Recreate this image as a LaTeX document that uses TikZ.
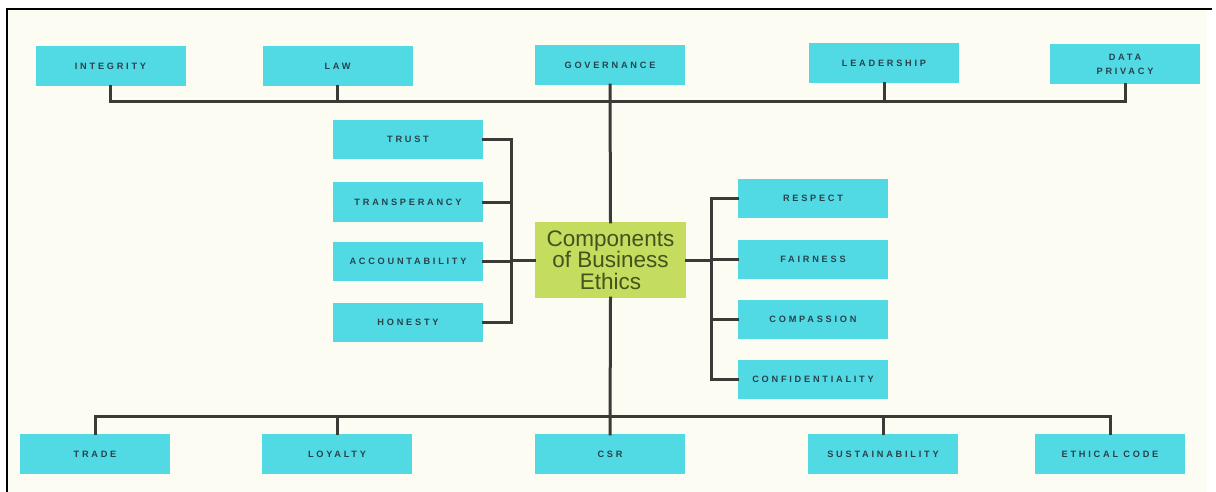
\documentclass[tikz,border=0pt]{standalone}
\usepackage{fontspec}
\setmainfont{Liberation Sans}
\newfontfamily\boxfont[LetterSpace=30]{Liberation Sans}
\definecolor{cream}{RGB}{252,252,243}
\definecolor{boxc}{RGB}{82,218,228}
\definecolor{boxtext}{RGB}{40,66,76}
\definecolor{centc}{RGB}{196,221,94}
\definecolor{centtext}{RGB}{68,82,32}
\definecolor{linec}{RGB}{58,58,54}
\tikzset{
  box/.style={fill=boxc, minimum width=150pt, minimum height=40pt, inner sep=0pt,
    font=\boxfont\bfseries\fontsize{9.2}{13.5}\selectfont, text=boxtext, align=center},
  mbox/.style={box, minimum height=39pt},
  conn/.style={draw=linec, line width=3pt, line cap=rect},
}
\begin{document}
\begin{tikzpicture}[x=1pt,y=-1pt]
\useasboundingbox (0,0) rectangle (1216,492);
\fill[white] (0,0) rectangle (1216,492);
\fill[cream] (8,10) rectangle (1207,492);
\draw[black, line width=2.5pt] (7,492) -- (7,9) -- (1212,9);

% top row
\node[box] (integ) at (110.5,66) {INTEGRITY};
\node[box] (law) at (337.5,66) {LAW};
\node[box] (gov) at (610,65) {GOVERNANCE};
\node[box] (lead) at (884,63.5) {LEADERSHIP};
\node[box] (dp) at (1125,64.5) {DATA\\PRIVACY};

% left column
\node[mbox] (trust) at (408,139.5) {TRUST};
\node[mbox] (trans) at (408,202) {TRANSPERANCY};
\node[mbox] (acc) at (408,261.5) {ACCOUNTABILITY};
\node[mbox] (hon) at (408,322.5) {HONESTY};

% center
\node[fill=centc, minimum width=151pt, minimum height=76pt, inner sep=0pt,
  text=centtext, align=center, font=\fontsize{22.5}{21.5}\selectfont] (cent) at (610.5,260)
  {Components\\of Business\\Ethics};

% right column
\node[mbox] (resp) at (813,198.5) {RESPECT};
\node[mbox] (fair) at (813,259.5) {FAIRNESS};
\node[mbox] (comp) at (813,319) {COMPASSION};
\node[mbox] (conf) at (813,379) {CONFIDENTIALITY};

% bottom row
\node[box] (trade) at (95,454) {TRADE};
\node[box] (loyal) at (337,454) {LOYALTY};
\node[box] (csr) at (610,454) {CSR};
\node[box] (sust) at (883,454) {SUSTAINABILITY};
\node[box] (ethic) at (1110,454) {ETHICAL CODE};

\coordinate (tbar) at (0,102);
\coordinate (bbar) at (0,416);
\coordinate (lb) at (511,0);
\coordinate (rb) at (711,0);

% top connectors
\draw[conn] (integ.south) -- (integ.south |- tbar) -- (dp.south |- tbar) -- (dp.south);
\draw[conn] (law.south) -- (law.south |- tbar);
\draw[conn] (lead.south) -- (lead.south |- tbar);
\draw[conn] (gov.south) -- (cent.north);

% bottom connectors
\draw[conn] (trade.north) -- (trade.north |- bbar) -- (ethic.north |- bbar) -- (ethic.north);
\draw[conn] (loyal.north) -- (loyal.north |- bbar);
\draw[conn] (sust.north) -- (sust.north |- bbar);
\draw[conn] (cent.south) -- (csr.north);

% left bracket
\draw[conn] (trust.east -| lb) -- (hon.east -| lb);
\draw[conn] (trust.east) -- (trust.east -| lb);
\draw[conn] (trans.east) -- (trans.east -| lb);
\draw[conn] (acc.east) -- (acc.east -| lb);
\draw[conn] (hon.east) -- (hon.east -| lb);
\draw[conn] (cent.west) -- (cent.west -| lb);

% right bracket
\draw[conn] (resp.west -| rb) -- (conf.west -| rb);
\draw[conn] (resp.west) -- (resp.west -| rb);
\draw[conn] (fair.west) -- (fair.west -| rb);
\draw[conn] (comp.west) -- (comp.west -| rb);
\draw[conn] (conf.west) -- (conf.west -| rb);
\draw[conn] (cent.east) -- (cent.east -| rb);
\end{tikzpicture}
\end{document}
